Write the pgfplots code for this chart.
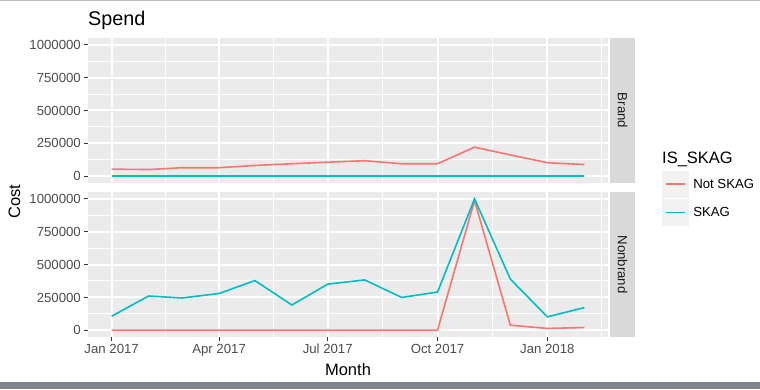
\documentclass[border=0pt]{standalone}
\usepackage{fontspec}
\setmainfont{Liberation Sans}
\usepackage{pgfplots}
\usepackage{pgfplotstable}
\pgfplotsset{compat=1.18}
\definecolor{ggred}{HTML}{F8766D}
\definecolor{ggcyan}{HTML}{00BFC4}
\definecolor{panelbg}{HTML}{EBEBEB}
\definecolor{stripbg}{HTML}{D9D9D9}
\definecolor{ticklab}{HTML}{4D4D4D}
\definecolor{keybg}{HTML}{F2F2F2}
\definecolor{tickcol}{HTML}{333333}
\definecolor{stripfg}{HTML}{1A1A1A}
\definecolor{bandcol}{HTML}{7E858D}
\newcommand\tk{\fontsize{13.2bp}{15bp}\selectfont}
\newcommand\ttl{\fontsize{16.5bp}{19bp}\selectfont}
\newcommand\bigttl{\fontsize{19.8bp}{23bp}\selectfont}

% day offset from 1 Jan 2017
\pgfplotstableread{
day brandnot brandskag nbnot nbskag
0   55000  2000  2000  108000
31  52000  2000  2000  261000
59  66000  2000  2000  246000
90  66000  2000  2000  280000
120 83000  2000  2000  378000
151 96000  2000  2000  193000
181 108000 2000  2000  351000
212 119000 2000  2000  383000
243 96000  2000  2000  250000
273 96000  2000  2000  291000
304 222000 2000  985000 998000
334 163000 2000  40000  389000
365 104000 2000  15000  103000
396 90000  2000  22000  173000
}\spend

\pgfplotsset{ggpanel/.style={
  scale only axis, width=520bp, height=145bp,
  xmin=-19.8, xmax=415.8, ymin=-50000, ymax=1050000,
  axis background/.style={fill=panelbg},
  axis line style={draw=none},
  grid=both,
  major grid style={white, line width=2bp},
  minor grid style={white, line width=1bp},
  xtick={0,90,181,273,365},
  minor xtick={45,135.5,227,319,410},
  ytick={0,250000,500000,750000,1000000},
  yticklabels={0,250000,500000,750000,1000000},
  minor ytick={125000,375000,625000,875000},
  scaled y ticks=false,
  tick align=outside,
  major tick length=4bp, minor tick length=0pt,
  tick style={tickcol, line width=1.1bp},
  ytick pos=left, xtick pos=bottom,
  ticklabel style={font=\tk, text=ticklab},
  yticklabel style={inner sep=0pt, xshift=-3bp},
  xticklabel style={inner sep=0pt, yshift=-3bp},
  every axis plot/.append style={line width=1.6bp, no markers},
}}

\begin{document}
\begin{tikzpicture}[x=1bp,y=1bp]
\fill[white] (0,0) rectangle (760,389);
\useasboundingbox (0,0) rectangle (760,389);
\fill[bandcol] (0,0) rectangle (760,7);
\fill[black!25] (0,388) rectangle (760,389);

% Brand panel
\begin{axis}[ggpanel, at={(88bp,206bp)}, anchor=south west,
  xticklabels={}, xmajorticks=false,
  legend style={at={(1.1038,0.0828)}, anchor=north west, draw=none, fill=none,
    inner sep=0pt, outer sep=0pt, column sep=4.7bp, row sep=1.7bp,
    font=\tk, nodes={inner sep=0pt}},
  legend cell align=left,
  legend image code/.code={
    \fill[keybg] (0bp,-12.5bp) rectangle (25bp,12.5bp);
    \draw[#1, line width=1.6bp] (3bp,0bp) -- (22bp,0bp);
  }]
\addplot[ggred] table[x=day, y=brandnot] {\spend};
\addlegendentry{Not SKAG}
\addplot[ggcyan] table[x=day, y=brandskag] {\spend};
\addlegendentry{SKAG}
\end{axis}

% Nonbrand panel
\begin{axis}[ggpanel, at={(88bp,52bp)}, anchor=south west,
  xticklabels={Jan 2017, Apr 2017, Jul 2017, Oct 2017, Jan 2018}]
\addplot[ggred] table[x=day, y=nbnot] {\spend};
\addplot[ggcyan] table[x=day, y=nbskag] {\spend};
\end{axis}

% strips
\fill[stripbg] (610,206) rectangle (635,351);
\node[rotate=-90, text=stripfg, font=\tk, inner sep=0pt] at (622.5,278.5) {Brand};
\fill[stripbg] (610,52) rectangle (635,197);
\node[rotate=-90, text=stripfg, font=\tk, inner sep=0pt] at (622.5,124.5) {Nonbrand};

% titles
\node[anchor=base west, font=\bigttl, inner sep=0pt] at (88,364) {Spend};
\node[anchor=base, font=\ttl, inner sep=0pt] at (348,14) {Month};
\node[anchor=base, rotate=90, font=\ttl, inner sep=0pt] at (20,187.5) {Cost};
\node[anchor=base west, font=\ttl, inner sep=0pt] at (662,225.7) {IS\_SKAG};
\end{tikzpicture}
\end{document}
